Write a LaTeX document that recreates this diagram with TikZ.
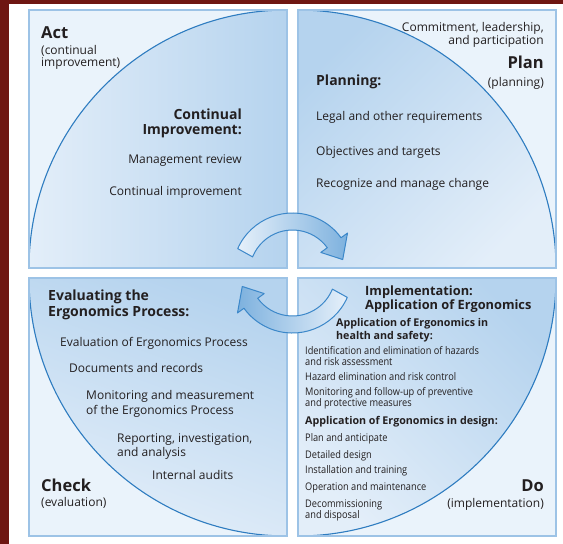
\documentclass[tikz,border=0pt]{standalone}
\usepackage{fontspec}
\setmainfont{Open Sans}
\newfontfamily\condfont[FakeStretch=0.88]{Open Sans}
\usetikzlibrary{calc}
\definecolor{bgred}{HTML}{6E1612}
\definecolor{pale}{HTML}{EAF3FB}
\definecolor{framec}{HTML}{9DC3E6}
\definecolor{arcblue}{HTML}{2E7CC0}
\definecolor{qlight}{HTML}{E3EEF9}
\definecolor{qdark}{HTML}{B5D3EE}
\definecolor{txtc}{HTML}{231F20}
\definecolor{arrlight}{HTML}{E6F0FA}
\definecolor{arrdark}{HTML}{7DB1DE}
\definecolor{arrline}{HTML}{3B87C9}
\tikzset{
  quadbox/.style={fill=pale, draw=framec, line width=1.1pt},
  quadframe/.style={draw=framec, line width=1.1pt},
  arcline/.style={draw=arcblue, line width=1.1pt},
  cyclearrow/.style={draw=arrline, line width=1pt, line join=round},
  body/.style={text=txtc, inner sep=0pt, font=\fontsize{12}{14}\selectfont},
  phase/.style={text=txtc, inner sep=0pt, font=\fontsize{16.5}{18}\selectfont\bfseries},
  subhd/.style={text=txtc, inner sep=0pt, font=\fontsize{14}{16}\selectfont\bfseries},
  subhdmd/.style={text=txtc, inner sep=0pt, font=\fontsize{12.8}{15}\selectfont\bfseries},
  subhdsm/.style={text=txtc, inner sep=0pt, font=\fontsize{10.7}{13}\selectfont\bfseries},
  smalltxt/.style={text=txtc, inner sep=0pt, font=\condfont\fontsize{10.5}{12}\selectfont},
}
\begin{document}
\begin{tikzpicture}[x=1pt,y=-1pt]
\useasboundingbox (0,0) rectangle (563,544);
\fill[bgred] (0,0) rectangle (563,544);
\fill[white] (9,4) rectangle (563,544);
% boxes
\path[quadbox] (29,10) rectangle (287,268);
\path[quadbox] (298,10) rectangle (556,268);
\path[quadbox] (29,278) rectangle (287,536);
\path[quadbox] (298,278) rectangle (556,536);
% quarter discs
\path[left color=qlight, right color=qdark] (287,268) -- (29,268) arc[start angle=180, end angle=270, radius=258] -- cycle;
\path[top color=qdark, bottom color=qlight, shading angle=45] (298,268) -- (298,10) arc[start angle=270, end angle=360, radius=258] -- cycle;
\path[top color=qdark, bottom color=qlight, shading angle=-20] (287,278) -- (29,278) arc[start angle=180, end angle=90, radius=258] -- cycle;
\path[top color=qdark, bottom color=qlight, shading angle=-45] (298,278) -- (556,278) arc[start angle=0, end angle=90, radius=258] -- cycle;
\draw[arcline] (29,268) arc[start angle=180, end angle=270, radius=258];
\draw[arcline] (298,10) arc[start angle=270, end angle=360, radius=258];
\draw[arcline] (29,278) arc[start angle=180, end angle=90, radius=258];
\draw[arcline] (556,278) arc[start angle=0, end angle=90, radius=258];
\path[quadframe] (29,10) rectangle (287,268);
\path[quadframe] (298,10) rectangle (556,268);
\path[quadframe] (29,278) rectangle (287,536);
\path[quadframe] (298,278) rectangle (556,536);
% cycle arrows
\coordinate (C) at (292.5,273);
\path[cyclearrow, left color=arrlight, right color=arrdark]
  ($(C)+(-156:60)$) arc[start angle=-156, end angle=-36, radius=60]
  -- ($(C)+(-36:68)$) -- ($(C)+(-15:52)$) -- ($(C)+(-36:35)$) -- ($(C)+(-36:43)$)
  arc[start angle=-36, end angle=-158, radius=43] -- cycle;
\path[cyclearrow, left color=arrdark, right color=arrlight]
  ($(C)+(24:60)$) arc[start angle=24, end angle=144, radius=60]
  -- ($(C)+(144:68)$) -- ($(C)+(165:52)$) -- ($(C)+(144:35)$) -- ($(C)+(144:43)$)
  arc[start angle=144, end angle=22, radius=43] -- cycle;
% Act
\node[phase, anchor=base west] (act) at (41,38) {Act};
\node[body, anchor=base west] (act1) at (41,54) {(continual};
\node[body, anchor=base west] (act2) at (41,66) {improvement)};
\node[subhd, anchor=base east] (ci1) at (242,119.5) {Continual};
\node[subhd, anchor=base east] (ci2) at (242,134) {Improvement:};
\node[body, anchor=base east] (mr) at (242,163) {Management review};
\node[body, anchor=base east] (cim) at (242,195.5) {Continual improvement};
% Plan
\node[body, anchor=base east] (com1) at (544,31.5) {Commitment, leadership,};
\node[body, anchor=base east] (com2) at (544,44.5) {and participation};
\node[phase, anchor=base east] (plan) at (544,68.3) {Plan};
\node[body, anchor=base east] (plan1) at (544,86.5) {(planning)};
\node[subhd, anchor=base west] (planning) at (316,85) {Planning:};
\node[body, anchor=base west] (legal) at (316,120) {Legal and other requirements};
\node[body, anchor=base west] (obj) at (316,155) {Objectives and targets};
\node[body, anchor=base west] (rec) at (316,187.7) {Recognize and manage change};
% Check
\node[subhd, anchor=base west] (ev1) at (48,300) {Evaluating the};
\node[subhd, anchor=base west] (ev2) at (48,316.7) {Ergonomics Process:};
\node[body, anchor=base west] (evp) at (60,346.7) {Evaluation of Ergonomics Process};
\node[body, anchor=base west] (doc) at (69,372.7) {Documents and records};
\node[body, anchor=base west] (mon1) at (86,399.3) {Monitoring and measurement};
\node[body, anchor=base west] (mon2) at (86,414.3) {of the Ergonomics Process};
\node[body, anchor=base west] (rep1) at (117,442.7) {Reporting, investigation,};
\node[body, anchor=base west] (rep2) at (117,456.7) {and analysis};
\node[body, anchor=base west] (aud) at (152,479.3) {Internal audits};
\node[phase, anchor=base west] (check) at (41,491.7) {Check};
\node[body, anchor=base west] (check1) at (41,506.7) {(evaluation)};
% Do
\node[subhdmd, anchor=base west] (imp1) at (365,295.7) {Implementation:};
\node[subhdmd, anchor=base west] (imp2) at (365,309) {Application of Ergonomics};
\node[subhdsm, anchor=base west] (hs1) at (336,326.7) {Application of Ergonomics in};
\node[subhdsm, anchor=base west] (hs2) at (336,339) {health and safety:};
\node[smalltxt, anchor=base west] (s1) at (305,354.3) {Identification and elimination of hazards};
\node[smalltxt, anchor=base west] (s2) at (305,365) {and risk assessment};
\node[smalltxt, anchor=base west] (s3) at (305,380) {Hazard elimination and risk control};
\node[smalltxt, anchor=base west] (s4) at (305,395.3) {Monitoring and follow-up of preventive};
\node[smalltxt, anchor=base west] (s5) at (305,406.3) {and protective measures};
\node[subhdsm, anchor=base west] (des) at (305,424.3) {Application of Ergonomics in design:};
\node[smalltxt, anchor=base west] (d1) at (305,441) {Plan and anticipate};
\node[smalltxt, anchor=base west] (d2) at (305,458.3) {Detailed design};
\node[smalltxt, anchor=base west] (d3) at (305,473.7) {Installation and training};
\node[smalltxt, anchor=base west] (d4) at (305,490) {Operation and maintenance};
\node[smalltxt, anchor=base west] (d5) at (305,507) {Decommissioning};
\node[smalltxt, anchor=base west] (d6) at (305,518.3) {and disposal};
\node[phase, anchor=base east] (do) at (544,491.7) {Do};
\node[body, anchor=base east] (do1) at (544,507.3) {(implementation)};
\end{tikzpicture}
\end{document}
